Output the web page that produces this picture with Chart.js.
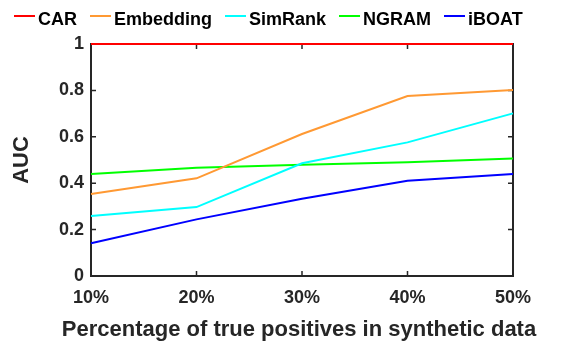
<!DOCTYPE html>
<html>
<head>
<meta charset="utf-8">
<script src="https://cdn.jsdelivr.net/npm/chart.js@4/dist/chart.umd.min.js"></script>
<style>
  html, body { margin: 0; padding: 0; background: #ffffff; }
  #wrap { width: 569px; height: 342px; position: relative; }
</style>
</head>
<body>
<div id="wrap"><canvas id="c"></canvas></div>
<script>
// Percentage of true positives in the synthetic data
const categories = ['10%', '20%', '30%', '40%', '50%'];
const seriesNames = ['CAR', 'Embedding', 'SimRank', 'NGRAM', 'iBOAT'];

// AUC per method
const carAUC       = [1, 1, 1, 1, 1];
const embeddingAUC = [0.353, 0.421, 0.612, 0.776, 0.802];
const simRankAUC   = [0.259, 0.297, 0.486, 0.576, 0.701];
const ngramAUC     = [0.440, 0.467, 0.480, 0.490, 0.507];
const iboatAUC     = [0.141, 0.244, 0.333, 0.411, 0.440];

const yTickValues = [0, 0.2, 0.4, 0.6, 0.8, 1];
const xTitle = 'Percentage of true positives in synthetic data';

const seriesColors = ['#ff0000', '#ff9933', '#00ffff', '#00ff00', '#0000ff'];
const seriesValues = [carAUC, embeddingAUC, simRankAUC, ngramAUC, iboatAUC];

const FONT = '"Liberation Sans", Arial, Helvetica, sans-serif';
const INK = '#262626';

// Box around the plot with short inward ticks on all four sides
const boxPlugin = {
  id: 'boxTicks',
  beforeDatasetsDraw(chart) {
    const { ctx, chartArea: a, scales } = chart;
    const len = 5;
    ctx.save();
    ctx.strokeStyle = INK;
    ctx.lineWidth = 2;
    ctx.beginPath();
    ctx.rect(a.left, a.top, a.right - a.left, a.bottom - a.top);
    ctx.stroke();
    ctx.lineWidth = 1.5;
    ctx.beginPath();
    scales.x.ticks.forEach((t, i) => {
      const x = scales.x.getPixelForTick(i);
      ctx.moveTo(x, a.bottom); ctx.lineTo(x, a.bottom - len);
      ctx.moveTo(x, a.top); ctx.lineTo(x, a.top + len);
    });
    scales.y.ticks.forEach((t) => {
      const y = scales.y.getPixelForValue(t.value);
      ctx.moveTo(a.left, y); ctx.lineTo(a.left + len, y);
      ctx.moveTo(a.right, y); ctx.lineTo(a.right - len, y);
    });
    ctx.stroke();
    ctx.restore();
  }
};

// X axis title, allowed to run wider than the plot area
const xTitlePlugin = {
  id: 'wideXTitle',
  afterDraw(chart) {
    const { ctx } = chart;
    ctx.save();
    ctx.font = 'bold 22px ' + FONT;
    ctx.fillStyle = INK;
    ctx.textAlign = 'center';
    ctx.textBaseline = 'alphabetic';
    ctx.fillText(xTitle, 299, 336);
    ctx.restore();
  }
};

// Single-row legend: short line sample followed by the series name
const legendPlugin = {
  id: 'lineLegend',
  afterDraw(chart) {
    const { ctx } = chart;
    const sample = 21, gapText = 3, gapItem = 13;
    let x = 14;
    const lineY = 16, textY = 25;
    ctx.save();
    ctx.font = 'bold 18px ' + FONT;
    ctx.textBaseline = 'alphabetic';
    ctx.textAlign = 'left';
    chart.data.datasets.forEach((ds) => {
      ctx.strokeStyle = ds.borderColor;
      ctx.lineWidth = 2;
      ctx.beginPath();
      ctx.moveTo(x, lineY); ctx.lineTo(x + sample, lineY);
      ctx.stroke();
      x += sample + gapText;
      ctx.fillStyle = '#000000';
      ctx.fillText(ds.label, x, textY);
      x += ctx.measureText(ds.label).width + gapItem;
    });
    ctx.restore();
  }
};

const datasets = seriesNames.map((name, i) => ({
  label: name,
  data: seriesValues[i],
  borderColor: seriesColors[i],
  backgroundColor: seriesColors[i],
  borderWidth: 2,
  pointRadius: 0,
  tension: 0,
  fill: false,
  clip: 4
}));

new Chart(document.getElementById('c'), {
  type: 'line',
  data: { labels: categories, datasets },
  options: {
    responsive: true,
    maintainAspectRatio: false,
    animation: false,
    devicePixelRatio: 1,
    layout: { padding: { left: 0, right: 56, top: 44, bottom: 0 } },
    plugins: {
      legend: { display: false },
      tooltip: { enabled: false }
    },
    scales: {
      x: {
        offset: false,
        grid: { display: false, drawTicks: false },
        border: { display: false },
        ticks: {
          color: INK,
          padding: 11,
          maxRotation: 0,
          autoSkip: false,
          font: { family: FONT, size: 18, weight: 'bold' }
        },
        title: { display: false },
        afterFit(scale) { scale.height = 66; }
      },
      y: {
        min: 0,
        max: 1,
        afterBuildTicks(scale) {
          scale.ticks = yTickValues.map(v => ({ value: v }));
        },
        grid: { display: false, drawTicks: false },
        border: { display: false },
        ticks: {
          color: INK,
          padding: 7,
          font: { family: FONT, size: 18, weight: 'bold' },
          callback: (v) => String(Math.round(v * 10) / 10)
        },
        title: {
          display: true,
          text: 'AUC',
          color: INK,
          padding: { top: 9, bottom: 0 },
          font: { family: FONT, size: 22, weight: 'bold' }
        },
        afterFit(scale) { scale.width = 91; }
      }
    }
  },
  plugins: [boxPlugin, xTitlePlugin, legendPlugin]
});
</script>
</body>
</html>
